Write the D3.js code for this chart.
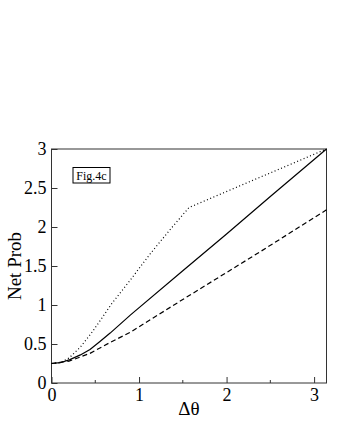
<!DOCTYPE html>
<html>
<head>
<meta charset="utf-8">
<script src="https://cdn.jsdelivr.net/npm/d3@7"></script>
<style>
  body { margin: 0; background: #fff; }
</style>
</head>
<body>
<svg id="chart" width="337" height="436"></svg>
<script>
// values
let solidX  = [0, 0.1, 0.21, 0.33, 0.44, 0.55, 0.67, 0.9, 1.5, 2.0, 2.5, Math.PI];
let solidY  = [0.25, 0.26, 0.30, 0.36, 0.43, 0.53, 0.64, 0.87, 1.44, 1.91, 2.39, 3.0];
let dashX   = [0, 0.2, 0.44, 0.67, 0.9, 1.47, 2.38, Math.PI];
let dashY   = [0.25, 0.28, 0.38, 0.52, 0.65, 1.05, 1.68, 2.22];
let dotX    = [0, 0.1, 0.2, 0.33, 0.45, 0.55, 0.69, 0.9, 1.13, 1.35, Math.PI / 2, Math.PI];
let dotY    = [0.25, 0.26, 0.32, 0.46, 0.63, 0.79, 1.02, 1.32, 1.66, 1.96, 2.25, 3.0];
let xTicks  = [0, 1, 2, 3];
let xMinor  = [0.5, 1.5, 2.5];
let yTicks  = [0, 0.5, 1, 1.5, 2, 2.5, 3];
let yLabels = ["0", "0.5", "1", "1.5", "2", "2.5", "3"];

let serif = "'Liberation Serif', 'Times New Roman', Times, serif";

let svg = d3.select("#chart");
let plotLeft = 51.5, plotRight = 326.5, plotTop = 149, plotBottom = 383;

let x = d3.scaleLinear().domain([0, Math.PI]).range([plotLeft, plotRight]);
let y = d3.scaleLinear().domain([0, 3]).range([plotBottom, plotTop]);

let frameColor = "#333";

// ticks (inward)
let xAxis = svg.append("g").attr("transform", "translate(0," + plotBottom + ")")
    .call(d3.axisBottom(x).tickValues(xTicks).tickSizeInner(-6).tickSizeOuter(0).tickPadding(5).tickFormat(d3.format("d")));
xAxis.attr("font-family", serif).attr("font-size", 18);
xAxis.select(".domain").remove();
xAxis.selectAll("line").attr("stroke", frameColor);
xAxis.selectAll("text").attr("fill", "#000");

svg.append("g").selectAll("line")
    .data(xMinor).enter().append("line")
    .attr("x1", d => x(d)).attr("x2", d => x(d))
    .attr("y1", plotBottom).attr("y2", plotBottom - 3)
    .attr("stroke", frameColor);

let yAxis = svg.append("g").attr("transform", "translate(" + plotLeft + ",0)")
    .call(d3.axisLeft(y).tickValues(yTicks).tickSizeInner(-6).tickSizeOuter(0).tickPadding(5)
        .tickFormat((d, i) => yLabels[i]));
yAxis.attr("font-family", serif).attr("font-size", 18);
yAxis.select(".domain").remove();
yAxis.selectAll("line").attr("stroke", frameColor);
yAxis.selectAll("text").attr("fill", "#000").attr("dy", "0.3em");

// frame
svg.append("rect")
    .attr("x", plotLeft).attr("y", plotTop)
    .attr("width", plotRight - plotLeft).attr("height", plotBottom - plotTop)
    .attr("fill", "none").attr("stroke", frameColor).attr("stroke-width", 1);

// curves
let line = d3.line().x(d => x(d[0])).y(d => y(d[1])).curve(d3.curveLinear);
let series = [
    { xs: solidX, ys: solidY, dash: null, width: 1.2 },
    { xs: dashX, ys: dashY, dash: "5,3", width: 1.2 },
    { xs: dotX, ys: dotY, dash: "1,2.5", width: 1.2 }
];
series.forEach(function (s) {
    svg.append("path")
        .datum(s.xs.map((v, i) => [v, s.ys[i]]))
        .attr("d", line)
        .attr("fill", "none")
        .attr("stroke", "#000")
        .attr("stroke-width", s.width)
        .attr("stroke-dasharray", s.dash);
});

// legend box
svg.append("rect")
    .attr("x", 73).attr("y", 167.5).attr("width", 37).attr("height", 15.5)
    .attr("fill", "#fff").attr("stroke", "#000").attr("stroke-width", 1);
svg.append("text")
    .attr("x", 91.5).attr("y", 179.5)
    .attr("font-family", serif)
    .attr("text-anchor", "middle").attr("font-size", 12)
    .text("Fig.4c");

// axis titles
svg.append("text")
    .attr("x", (plotLeft + plotRight) / 2).attr("y", 415)
    .attr("font-family", serif)
    .attr("text-anchor", "middle").attr("font-size", 19)
    .text("Δθ");
svg.append("text")
    .attr("transform", "translate(21," + ((plotTop + plotBottom) / 2) + ") rotate(-90)")
    .attr("font-family", serif)
    .attr("text-anchor", "middle").attr("font-size", 19)
    .text("Net Prob");
</script>
</body>
</html>
